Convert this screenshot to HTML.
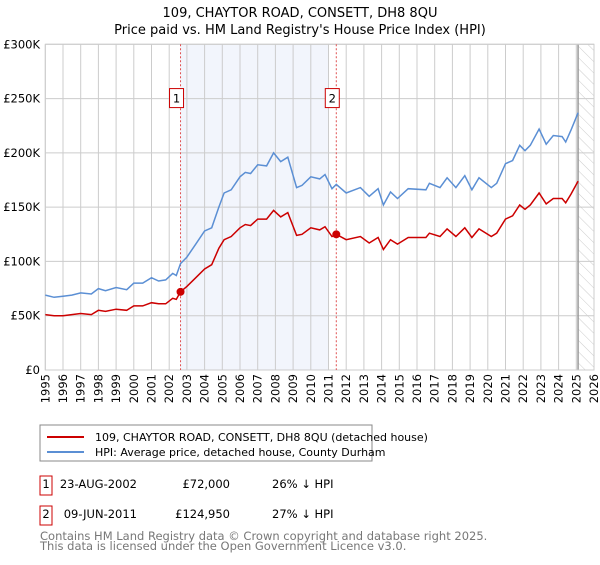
<!DOCTYPE html>
<html><head><meta charset="utf-8"><style>
body{margin:0;background:#fff;font-family:"Liberation Sans","DejaVu Sans",sans-serif;}
svg text{font-family:"DejaVu Sans","Liberation Sans",sans-serif;}
</style></head><body>
<svg id="c" width="600" height="560" xmlns="http://www.w3.org/2000/svg">
<defs><pattern id="hatch" width="8" height="8" patternUnits="userSpaceOnUse" patternTransform="rotate(-45)"><line x1="0" y1="0" x2="0" y2="8" stroke="#ccc" stroke-width="1"/></pattern></defs>
<text x="300" y="17" text-anchor="middle" font-size="13">109, CHAYTOR ROAD, CONSETT, DH8 8QU</text>
<text x="300" y="34" text-anchor="middle" font-size="13">Price paid vs. HM Land Registry's House Price Index (HPI)</text>
<g id="plot"></g>
<rect x="40" y="425" width="332" height="36" fill="#fff" stroke="#888"/>
<line x1="47" y1="437" x2="84" y2="437" stroke="#cc0000" stroke-width="2"/>
<text x="95" y="441" font-size="11">109, CHAYTOR ROAD, CONSETT, DH8 8QU (detached house)</text>
<line x1="47" y1="452" x2="84" y2="452" stroke="#5b8fd4" stroke-width="2"/>
<text x="95" y="456" font-size="11">HPI: Average price, detached house, County Durham</text>
<g font-size="11.5">
<rect x="40" y="476" width="12" height="19" fill="#fff" stroke="#cc0000"/><text x="46" y="488" text-anchor="middle">1</text>
<text x="137" y="488" text-anchor="end">23-AUG-2002</text><text x="230" y="488" text-anchor="end">£72,000</text><text x="272" y="488">26% ↓ HPI</text>
<rect x="40" y="506" width="12" height="19" fill="#fff" stroke="#cc0000"/><text x="46" y="518" text-anchor="middle">2</text>
<text x="137" y="518" text-anchor="end">09-JUN-2011</text><text x="230" y="518" text-anchor="end">£124,950</text><text x="272" y="518">27% ↓ HPI</text>
</g>
<text x="40" y="540" font-size="11.5" fill="#777">Contains HM Land Registry data © Crown copyright and database right 2025.</text>
<text x="40" y="550" font-size="11.5" fill="#777">This data is licensed under the Open Government Licence v3.0.</text>
</svg>
<script>
const years=[1995.0,1995.5,1996.0,1996.5,1997.0,1997.6,1998.0,1998.4,1999.0,1999.6,2000.0,2000.5,2001.0,2001.4,2001.8,2002.2,2002.4,2002.64,2003.0,2003.5,2004.0,2004.4,2004.8,2005.1,2005.5,2006.0,2006.3,2006.6,2007.0,2007.5,2007.9,2008.3,2008.7,2009.2,2009.5,2010.0,2010.5,2010.8,2011.2,2011.44,2012.0,2012.8,2013.3,2013.8,2014.1,2014.5,2014.9,2015.5,2016.5,2016.7,2017.3,2017.7,2018.2,2018.7,2019.1,2019.5,2020.2,2020.5,2021.0,2021.4,2021.8,2022.1,2022.4,2022.9,2023.3,2023.7,2024.2,2024.4,2024.7,2025.1];
const hpi=[69,67,68,69,71,70,75,73,76,74,80,80,85,82,83,89,87,98,104,116,128,131,150,163,166,178,182,181,189,188,200,192,196,168,170,178,176,180,167,171,163,168,160,167,152,164,158,167,166,172,168,177,168,179,166,177,168,172,190,193,207,202,207,222,208,216,215,210,221,237];
const price=[51,50,50,51,52,51,55,54,56,55,59,59,62,61,61,66,65,72,77,85,93,97,112,120,123,131,134,133,139,139,147,141,145,124,125,131,129,132,123,125,120,123,117,122,111,120,116,122,122,126,123,130,123,131,122,130,123,126,139,142,152,148,152,163,153,158,158,154,162,174];
const saleYears=[2002.64,2011.44];
const salePrices=[72,124.95];
const saleLabels=["1","2"];
const yTicks=[0,50,100,150,200,250,300];
const yTickLabels=["£0","£50K","£100K","£150K","£200K","£250K","£300K"];
const xTicks=[];for(let y=1995;y<=2026;y++)xTicks.push(y);
const X0=45.3,X1=594,Y0=370,Y1=44.3;
const sx=v=>X0+(v-1995)*(X1-X0)/31;
const sy=v=>Y0-(v)*(Y0-Y1)/300;
const NS="http://www.w3.org/2000/svg";
const g=document.getElementById('plot');
function mk(t,a){const e=document.createElementNS(NS,t);for(const k in a)e.setAttribute(k,a[k]);g.appendChild(e);return e;}
let e;
e=mk('rect',{x:sx(saleYears[0]),y:Y1,width:sx(2011.0)-sx(saleYears[0]),height:Y0-Y1,fill:'#f2f5fc'});


e=mk('rect',{x:sx(2025.1),y:Y1,width:X1-sx(2025.1),height:Y0-Y1,fill:'url(#hatch)'});


xTicks.forEach((t,i)=>{
 e=mk('line',{x1:sx(t),x2:sx(t),y1:Y1,y2:Y0,stroke:'#ccc','stroke-width':1});
 
 
 e=mk('text',{x:0,y:0,'font-size':11.5,'text-anchor':'end',transform:`translate(${sx(t)+4},374) rotate(-90)`});
 e.textContent=t;
 
 
});
yTicks.forEach((t,i)=>{
 e=mk('line',{x1:X0,x2:X1,y1:sy(t),y2:sy(t),stroke:'#ccc','stroke-width':1});
 
 
 e=mk('text',{x:40,y:sy(t)+4,'font-size':11.5,'text-anchor':'end'});
 e.textContent=yTickLabels[i];
 
 
});
e=mk('line',{x1:sx(2025.1),x2:sx(2025.1),y1:Y1,y2:Y0,stroke:'#999','stroke-width':1.5});


e=mk('rect',{x:X0,y:Y1,width:X1-X0,height:Y0-Y1,fill:'none',stroke:'#ccc'});


saleYears.forEach((s,i)=>{
 e=mk('line',{x1:sx(s),x2:sx(s),y1:Y1,y2:Y0,stroke:'#e05050','stroke-dasharray':'2,2','stroke-width':1});
 
 
});
const pts=arr=>arr.map((v,i)=>sx(years[i]).toFixed(1)+','+sy(v).toFixed(1)).join(' ');
e=mk('polyline',{points:pts(hpi),fill:'none',stroke:'#5b8fd4','stroke-width':1.5});


e=mk('polyline',{points:pts(price),fill:'none',stroke:'#cc0000','stroke-width':1.5});


saleYears.forEach((s,i)=>{
 e=mk('circle',{cx:sx(s),cy:sy(salePrices[i]),r:4,fill:'#cc0000'});
 
 
 e=mk('rect',{x:sx(s)-11,y:sy(250)-10,width:14,height:19,fill:'#fff',stroke:'#cc0000'});
 
 
 e=mk('text',{x:sx(s)-4,y:sy(250)+4,'font-size':11.5,'text-anchor':'middle'});
 e.textContent=saleLabels[i];
 
 
});
</script>
</body></html>
